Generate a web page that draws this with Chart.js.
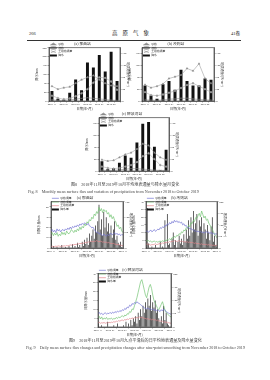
<!DOCTYPE html>
<html>
<head>
<meta charset="utf-8">
<script src="https://cdn.jsdelivr.net/npm/chart.js@4.4.1/dist/chart.umd.min.js"></script>
<style>
html, body { margin: 0; padding: 0; background: #fff; }
#page { position: relative; width: 270px; height: 380px; overflow: hidden; font-family: "Liberation Serif", "Noto Sans CJK SC", serif; color: #222; }
.t { position: absolute; white-space: nowrap; line-height: 1; }
.c { position: absolute; display: block; }
</style>
</head>
<body>
<div id="page">
    <div class="t" style="left:29px;top:32px;font-size:4.5px;">266</div>
    <div class="t" style="left:112px;top:31px;font-size:5.5px;letter-spacing:5px;">高原气象</div>
    <div class="t" style="left:231px;top:32px;font-size:4.5px;">41卷</div>
    <div style="position:absolute;left:27px;top:40px;width:214px;height:0;border-top:0.7px solid #333;"></div>

    <canvas class="c" id="month-a" width="95" height="70" style="left:35px;top:42px;"></canvas>
    <canvas class="c" id="month-b" width="96" height="70" style="left:128px;top:42px;"></canvas>
    <canvas class="c" id="month-c" width="94" height="70" style="left:85px;top:112px;"></canvas>

    <div class="t" style="left:71px;top:183px;font-size:4.1px;color:#444;">图8　2018年11月至2019年10月平均地表通量与降水量月变化</div>
    <div class="t" style="left:28px;top:190px;font-size:4.1px;color:#444;">Fig. 8　Monthly mean surface flux and variation of precipitation from November 2018 to October 2019</div>

    <canvas class="c" id="day-a" width="96" height="63" style="left:37px;top:196px;"></canvas>
    <canvas class="c" id="day-b" width="95" height="63" style="left:132px;top:196px;"></canvas>
    <canvas class="c" id="day-c" width="97" height="70" style="left:84px;top:268px;"></canvas>

    <div class="t" style="left:69px;top:339px;font-size:4.1px;color:#444;">图9　2018年11月至2019年10月九点平滑后的日平均地表通量及降水量变化</div>
    <div class="t" style="left:26px;top:346px;font-size:4.1px;color:#444;">Fig. 9　Daily mean surface flux changes and precipitation changes after nine-point smoothing from November 2018 to October 2019</div>
</div>

<script>
////////////////////////////////////////////////////////////////////////////////
/////////////////////----------------DATA----------------///////////////////////
// monthly (fig 8)
var monthLabels = ['2018-11', '2018-12', '2019-01', '2019-02', '2019-03', '2019-04',
    '2019-05', '2019-06', '2019-07', '2019-08', '2019-09', '2019-10']

var naquRain = [45, 10, 6, 37, 97, 48, 174, 151, 207, 133, 222, 90]
var naquSensible = [50, 40, 45, 48, 60, 72, 80, 86, 72, 60, 52, 50]
var naquLatent = [18, 10, 6, 9, 16, 26, 40, 62, 80, 78, 66, 38]
var naquSoil = [4, 2, 2, 4, 6, 9, 11, 9, 7, 5, 3, 2]

var gaizeRain = [52, 19, 8, 57, 68, 38, 106, 68, 52, 52, 76, 72]
var gaizeSensible = [55, 45, 50, 58, 76, 82, 88, 110, 102, 126, 76, 60]
var gaizeLatent = [30, 20, 18, 22, 28, 34, 44, 54, 60, 50, 40, 30]
var gaizeSoil = [4, 3, 2, 4, 6, 7, 9, 9, 7, 5, 4, 3]

var shiquanheRain = [33, 6, 10, 28, 52, 45, 96, 160, 166, 82, 2, 72]
var shiquanheSensible = [38, 34, 36, 46, 56, 62, 74, 92, 86, 62, 46, 38]
var shiquanheLatent = [15, 10, 8, 10, 15, 20, 30, 50, 60, 40, 20, 15]
var shiquanheSoil = [3, 2, 2, 4, 6, 8, 8, 6, 5, 3, 2, 2]

// daily, 6-day steps from 2018-11-01 (fig 9)
var dayTickLabels = ['2018-11', '2019-01', '2019-03', '2019-05', '2019-07', '2019-09', '2019-11']

var naquDayRain = [8, 0, 2, 0, 0, 1, 0, 0, 0, 3, 0, 0, 1, 0, 0, 2, 0, 0, 4, 0,
    2, 0, 5, 1, 3, 0, 6, 2, 8, 4, 10, 3, 14, 6, 12, 18, 9, 22, 15, 26,
    42, 18, 28, 12, 35, 20, 30, 16, 24, 14, 22, 10, 18, 26, 8, 12, 5, 3, 6, 1, 0]
var naquDaySensible = [55, 60, 52, 58, 50, 62, 55, 60, 52, 58, 60, 55, 62, 58, 65, 60, 68, 62, 70, 66,
    72, 68, 75, 70, 78, 74, 80, 76, 82, 78, 75, 80, 72, 70, 65, 68, 60, 55, 50, 52,
    45, 48, 42, 40, 45, 42, 38, 44, 40, 45, 48, 42, 46, 50, 44, 48, 42, 46, 40, 44, 42]
var naquDayLatent = [45, 50, 40, 48, 42, 50, 38, 45, 40, 52, 44, 50, 42, 55, 48, 46, 52, 60, 55, 50,
    58, 52, 62, 56, 68, 60, 70, 65, 78, 72, 85, 80, 92, 88, 100, 95, 110, 105, 118, 112,
    132, 120, 128, 115, 125, 118, 122, 110, 115, 100, 108, 95, 102, 90, 85, 70, 75, 62, 68, 55, 50]
var naquDaySoil = [5, 6, 4, 5, 6, 5, 7, 6, 5, 6, 6, 7, 6, 8, 7, 8, 10, 9, 11, 10,
    12, 11, 14, 13, 15, 14, 16, 15, 18, 17, 18, 20, 19, 22, 21, 20, 22, 21, 24, 22,
    20, 22, 21, 19, 20, 18, 19, 17, 18, 16, 15, 14, 15, 13, 12, 11, 12, 10, 9, 8, 7]

var gaizeDayRain = [0, 26, 3, 0, 0, 1, 0, 0, 2, 0, 0, 0, 4, 0, 1, 0, 18, 0, 22, 2,
    3, 0, 6, 10, 2, 5, 0, 4, 8, 3, 6, 2, 9, 4, 12, 6, 18, 8, 20, 10,
    24, 12, 16, 22, 8, 18, 14, 20, 10, 16, 12, 6, 15, 10, 5, 14, 20, 4, 8, 2, 1]
var gaizeDaySensible = [70, 75, 68, 72, 78, 70, 74, 80, 72, 76, 82, 78, 88, 84, 92, 88, 98, 94, 105, 100,
    110, 104, 115, 108, 120, 112, 118, 110, 115, 108, 112, 100, 105, 95, 98, 88, 90, 82, 85, 78,
    80, 72, 75, 70, 74, 68, 72, 66, 70, 64, 68, 72, 65, 70, 62, 68, 60, 65, 58, 62, 60]
var gaizeDayLatent = [35, 30, 32, 28, 30, 25, 28, 30, 26, 28, 25, 28, 30, 26, 32, 28, 34, 30, 38, 35,
    40, 36, 45, 42, 50, 46, 55, 52, 62, 58, 70, 66, 78, 74, 88, 84, 98, 92, 110, 105,
    120, 115, 132, 128, 140, 150, 135, 160, 145, 130, 138, 120, 125, 108, 100, 90, 80, 70, 60, 50, 45]
var gaizeDaySoil = [15, 18, 14, 16, 12, 15, 14, 16, 18, 15, 16, 18, 20, 18, 22, 20, 24, 22, 26, 24,
    28, 26, 30, 28, 32, 30, 28, 30, 32, 28, 30, 28, 26, 28, 25, 27, 24, 26, 22, 24,
    22, 20, 22, 18, 20, 18, 16, 18, 15, 17, 14, 16, 13, 15, 12, 14, 11, 12, 10, 12, 11]

var shiquanheDayRain = [2, 0, 0, 1, 0, 0, 0, 0, 3, 0, 0, 0, 0, 1, 0, 0, 2, 0, 0, 0,
    0, 1, 0, 3, 0, 2, 0, 4, 1, 5, 3, 6, 2, 8, 4, 10, 6, 12, 8, 14,
    10, 16, 12, 18, 9, 14, 11, 15, 8, 10, 5, 3, 6, 2, 12, 4, 8, 2, 1, 0, 0]
var shiquanheDaySensible = [50, 55, 48, 52, 46, 50, 54, 48, 52, 50, 55, 50, 56, 52, 58, 54, 60, 56, 62, 58,
    65, 62, 70, 66, 75, 72, 82, 78, 88, 85, 92, 88, 95, 90, 88, 84, 80, 76, 72, 70,
    68, 72, 66, 70, 64, 68, 62, 66, 60, 64, 62, 58, 65, 60, 68, 62, 58, 55, 52, 50, 48]
var shiquanheDayLatent = [35, 40, 30, 38, 28, 34, 30, 36, 28, 32, 30, 34, 28, 32, 30, 36, 32, 38, 34, 40,
    42, 38, 45, 42, 50, 48, 58, 55, 68, 65, 80, 95, 110, 130, 150, 170, 178, 160, 140, 120,
    110, 130, 150, 160, 145, 120, 100, 90, 80, 70, 65, 75, 85, 95, 80, 65, 55, 50, 45, 40, 38]
var shiquanheDaySoil = [15, 18, 14, 16, 15, 17, 14, 16, 15, 18, 16, 18, 17, 20, 18, 22, 20, 24, 22, 25,
    26, 24, 28, 26, 30, 28, 32, 30, 34, 32, 35, 33, 36, 34, 38, 35, 36, 34, 33, 32,
    30, 32, 28, 30, 27, 29, 26, 28, 24, 26, 22, 24, 20, 22, 18, 20, 17, 18, 16, 15, 14]

////////////////////////////////////////////////////////////////////////////////
/////////////////////----------------HELPERS-------------///////////////////////
var fontFamily = '"Liberation Serif", "Noto Sans CJK SC", serif'
var fluxTitle = '地表通量/(W·m⁻²)'

// box around the plot area
var framePlugin = {
    id: 'frame',
    afterDraw: function (chart) {
        var a = chart.chartArea
        var ctx = chart.ctx
        ctx.save()
        ctx.strokeStyle = '#222'
        ctx.lineWidth = 0.6
        ctx.strokeRect(a.left, a.top, a.right - a.left, a.bottom - a.top)
        ctx.restore()
    }
}

function yAxis(position, max, step, title, width) {
    return {
        position: position,
        min: 0,
        max: max,
        border: { color: '#222', width: 0.6 },
        grid: { drawOnChartArea: false, color: '#222', lineWidth: 0.4, tickLength: 1.5 },
        ticks: { stepSize: step, padding: 0.8, color: '#333', font: { size: 2.8, family: fontFamily } },
        title: { display: true, text: title, padding: 0.5, color: '#333', font: { size: 3.2, family: fontFamily } },
        afterFit: function (s) { s.width = width }
    }
}

function xTitle() {
    return { display: true, text: '日期(年-月)', padding: 0.6, color: '#333', font: { size: 3.2, family: fontFamily } }
}

function baseOptions(title, scales) {
    return {
        responsive: false,
        animation: false,
        events: [],
        layout: { padding: 0 },
        scales: scales,
        plugins: {
            tooltip: { enabled: false },
            title: {
                display: true, text: title, color: '#333',
                padding: { top: 0, bottom: 1.2 },
                font: { size: 3.8, family: fontFamily, weight: 'normal' }
            },
            legend: {
                position: 'chartArea',
                align: 'start',
                labels: {
                    usePointStyle: true,
                    pointStyleWidth: 7,
                    boxHeight: 2,
                    padding: 0.9,
                    color: '#333',
                    font: { size: 2.8, family: fontFamily }
                }
            }
        }
    }
}

////////////////////////////////////////////////////////////////////////////////
/////////////////////------------MONTHLY CHARTS----------///////////////////////
function monthlyChart(canvasId, title, rain, sens, lat, soil, rainMax) {
    var scales = {
        x: {
            type: 'category',
            border: { color: '#222', width: 0.6 },
            grid: { display: true, drawOnChartArea: false, color: '#222', lineWidth: 0.4, tickLength: 1.5 },
            ticks: {
                autoSkip: false, maxRotation: 0, minRotation: 0, padding: 0.6, color: '#333',
                font: { size: 2.6, family: fontFamily },
                callback: function (v, i) { return i % 2 === 0 ? monthLabels[i] : '' }
            },
            title: xTitle(),
            afterFit: function (s) { s.height = 11 }
        },
        y: yAxis('left', rainMax, 20, '降水/mm', 14),
        y1: yAxis('right', 180, 20, fluxTitle, 10)
    }
    new Chart(document.getElementById(canvasId), {
        type: 'bar',
        data: {
            labels: monthLabels,
            datasets: [
                { label: '降水', data: rain, yAxisID: 'y', backgroundColor: '#111', barPercentage: 0.5, categoryPercentage: 1, pointStyle: 'rect', order: 2 },
                { type: 'line', label: '感热', data: sens, yAxisID: 'y1', borderColor: '#8c8c8c', backgroundColor: '#8c8c8c', borderWidth: 0.5, pointRadius: 1, pointStyle: 'triangle', order: 1 },
                { type: 'line', label: '潜热', data: lat, yAxisID: 'y1', borderColor: '#9a9a9a', backgroundColor: '#9a9a9a', borderWidth: 0.5, pointRadius: 0.9, pointStyle: 'circle', order: 1 },
                { type: 'line', label: '土壤热通量', data: soil, yAxisID: 'y1', borderColor: '#777', backgroundColor: '#777', borderWidth: 0.5, pointRadius: 1, pointStyle: 'crossRot', order: 1 }
            ]
        },
        options: baseOptions(title, scales),
        plugins: [framePlugin]
    })
}

monthlyChart('month-a', '(a) 那曲站', naquRain, naquSensible, naquLatent, naquSoil, 240)
monthlyChart('month-b', '(b) 改则站', gaizeRain, gaizeSensible, gaizeLatent, gaizeSoil, 180)
monthlyChart('month-c', '(c) 狮泉河站', shiquanheRain, shiquanheSensible, shiquanheLatent, shiquanheSoil, 180)

////////////////////////////////////////////////////////////////////////////////
/////////////////////-------------DAILY CHARTS-----------///////////////////////
function dailyChart(canvasId, title, rain, sens, lat, soil, rainMax, rainStep, fluxMax, fluxStep) {
    var steps = rain.map(function (v, i) { return i })
    var scales = {
        x: {
            type: 'linear',
            min: 0,
            max: 60,
            offset: false,
            border: { color: '#222', width: 0.6 },
            grid: { display: true, drawOnChartArea: false, color: '#222', lineWidth: 0.4, tickLength: 1.5 },
            ticks: {
                stepSize: 10, maxRotation: 0, minRotation: 0, padding: 0.6, color: '#333',
                font: { size: 2.6, family: fontFamily },
                callback: function (v) { return dayTickLabels[Math.round(v / 10)] }
            },
            title: xTitle(),
            afterFit: function (s) { s.height = 11 }
        },
        y: yAxis('left', rainMax, rainStep, '日降水量/mm', 14),
        y1: yAxis('right', fluxMax, fluxStep, fluxTitle, 10)
    }
    new Chart(document.getElementById(canvasId), {
        type: 'bar',
        data: {
            labels: steps,
            datasets: [
                { label: '降水量', data: rain, yAxisID: 'y', backgroundColor: '#111', barPercentage: 0.55, categoryPercentage: 1, pointStyle: 'rect', order: 2 },
                { type: 'line', label: '感热通量', data: sens, yAxisID: 'y1', borderColor: '#7577d4', backgroundColor: '#7577d4', borderWidth: 0.7, pointRadius: 0, pointStyle: 'line', order: 1 },
                { type: 'line', label: '潜热通量', data: lat, yAxisID: 'y1', borderColor: '#74c474', backgroundColor: '#74c474', borderWidth: 0.7, pointRadius: 0, pointStyle: 'line', order: 1 },
                { type: 'line', label: '土壤热通量', data: soil, yAxisID: 'y1', borderColor: '#e3868d', backgroundColor: '#e3868d', borderWidth: 0.7, pointRadius: 0, pointStyle: 'line', order: 1 }
            ]
        },
        options: baseOptions(title, scales),
        plugins: [framePlugin]
    })
}

dailyChart('day-a', '(a) 那曲站', naquDayRain, naquDaySensible, naquDayLatent, naquDaySoil, 45, 5, 150, 50)
dailyChart('day-b', '(b) 改则站', gaizeDayRain, gaizeDaySensible, gaizeDayLatent, gaizeDaySoil, 30, 5, 200, 50)
dailyChart('day-c', '(c) 狮泉河站', shiquanheDayRain, shiquanheDaySensible, shiquanheDayLatent, shiquanheDaySoil, 30, 5, 200, 50)
</script>
</body>
</html>
